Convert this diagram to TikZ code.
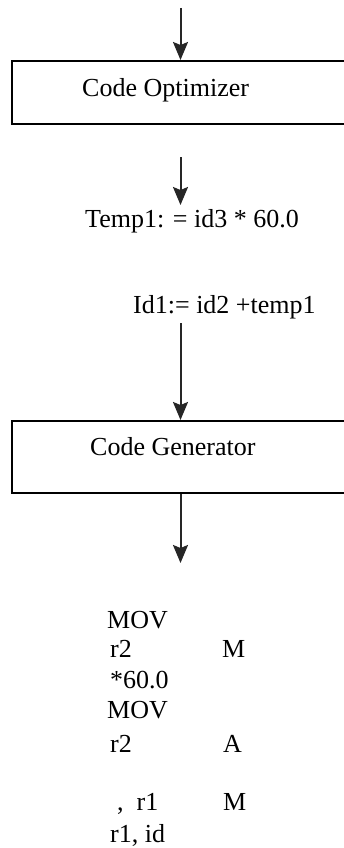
\documentclass[tikz,border=0pt]{standalone}
\usepackage{fontspec}
\setmainfont{Liberation Serif}
\usetikzlibrary{arrows.meta}
\begin{document}
\begin{tikzpicture}[x=1pt,y=-1pt,
  stagebox/.style={draw=black,line width=2pt,minimum width=337pt,inner sep=0pt,anchor=north},
  txt/.style={anchor=base west,inner sep=0pt,font=\fontsize{26}{30}\selectfont},
  flow/.style={draw=black!85,line width=2pt,-{Stealth[length=18pt,width=15pt,inset=3pt]}}]
\useasboundingbox (0,0) rectangle (344,848);
% boxes
\node[stagebox,minimum height=63pt] (opt) at (180.5,60) {};
\node[stagebox,minimum height=72pt] (gen) at (180.5,420) {};
% labels
\node[txt] (optl) at (82,97) {Code Optimizer};
\node[txt] (genl) at (90,455) {Code Generator};
\node[txt] (t1) at (85,227) {Temp1: = id3 * 60.0};
\node[txt] (t2) at (133,313) {Id1:= id2 +temp1};
% target code
\node[txt] (c1) at (107,628) {MOV};
\node[txt] (c2) at (110,657) {r2};
\node[txt] (c2m) at (222,657) {M};
\node[txt] (c3) at (110,688) {*60.0};
\node[txt] (c4) at (107,718) {MOV};
\node[txt] (c5) at (110,752) {r2};
\node[txt] (c5a) at (223,752) {A};
\node[txt] (c6) at (117,810) {,\ \ r1};
\node[txt] (c6m) at (223,810) {M};
\node[txt] (c7) at (110,842) {r1, id};
% connector ends
\coordinate (s1) at (180.5,8);
\coordinate (s2) at (180.5,157);
\coordinate (e2) at (180.5,205);
\coordinate (s3) at (180.5,323);
\coordinate (e4) at (180.5,563);
% arrows
\draw[flow] (s1) -- (opt.north);
\draw[flow] (s2) -- (e2);
\draw[flow] (s3) -- (gen.north);
\draw[flow] (gen.south) -- (e4);
\end{tikzpicture}
\end{document}
